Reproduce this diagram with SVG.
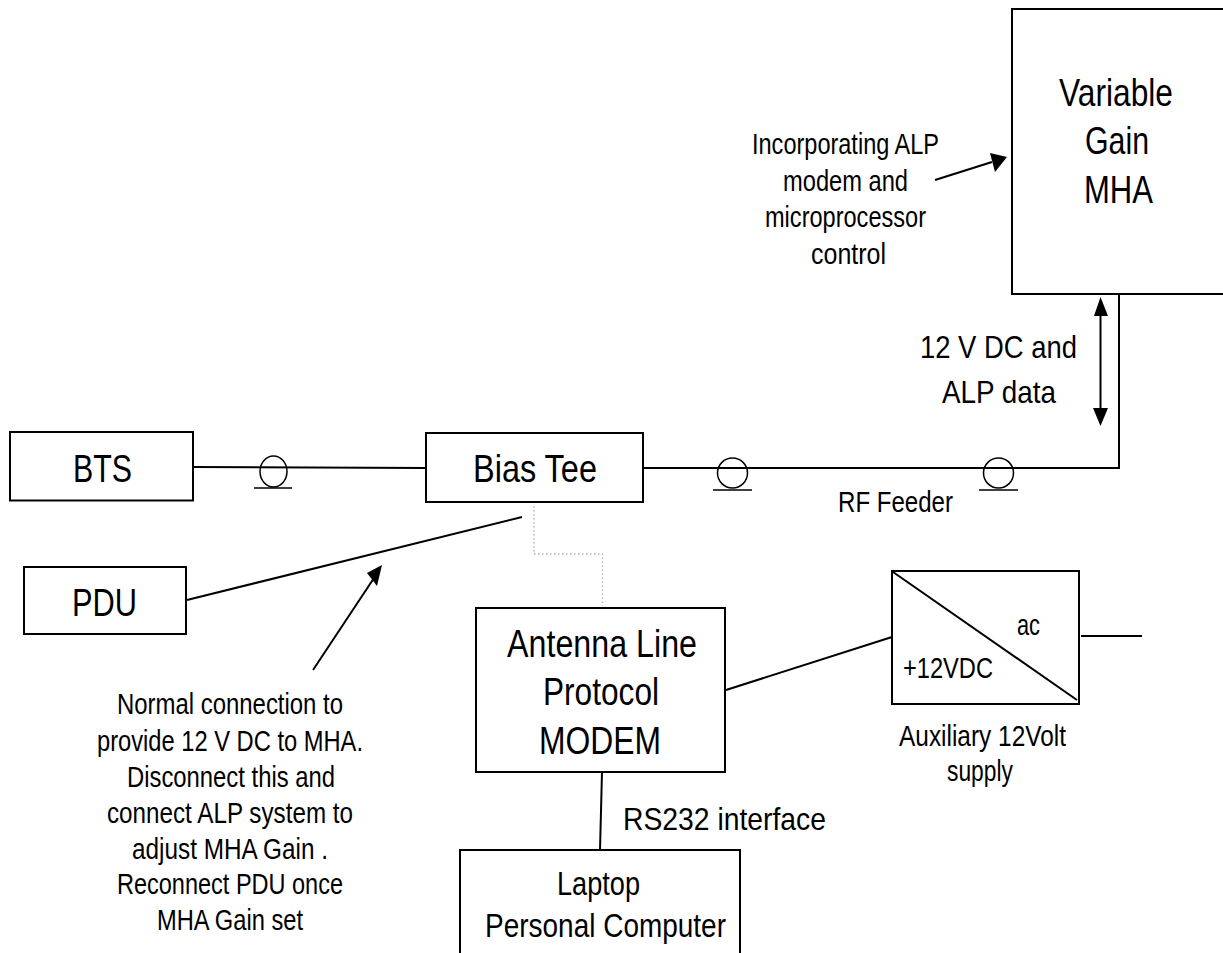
<svg xmlns="http://www.w3.org/2000/svg" width="1223" height="953" viewBox="0 0 1223 953">
<style>
text{font-family:"Liberation Sans",Arial,sans-serif;fill:#000;text-anchor:start}
.b{fill:#fff;stroke:#000;stroke-width:2}
.l{fill:none;stroke:#000;stroke-width:2}
.t{fill:none;stroke:#000;stroke-width:1.5}
.f{fill:#000;stroke:none}
.s{font-size:29px}.m{font-size:32px}.k{font-size:34px}.g{font-size:38.500px}
</style>
<rect width="1223" height="953" fill="#fff"/>
<g id="connectors">
<path class="l" d="M193 467L426 468"/>
<path class="l" d="M643 468H1119V294"/>
<path class="l" d="M187 600L522 517"/>
<path d="M534 506V554H602.500V606" fill="none" stroke="#b5b5b5" stroke-width="1.500" stroke-dasharray="1.500 2.500"/>
<path class="l" d="M726 690L892 637"/>
<path class="l" d="M1081 636H1142"/>
<path class="l" d="M602 772L600 850"/>
<path class="l" d="M935 180L992 162"/>
<path class="f" d="M1007 157L995 172L990 153Z"/>
<path class="l" d="M1100.500 312V410"/>
<path class="f" d="M1100.500 297L1108 316H1094ZM1100.500 426L1093 408H1108Z"/>
<path class="l" d="M313 670L374 578"/>
<path class="f" d="M382 565L377 586L367 573Z"/>
<ellipse class="t" cx="273.500" cy="471.500" rx="13.500" ry="15.500"/><path class="t" d="M254 488H292"/>
<circle class="t" cx="732.500" cy="473" r="15"/><path class="t" d="M713 490H752"/>
<circle class="t" cx="998.500" cy="473" r="15"/><path class="t" d="M979 490H1018"/>
</g>
<g id="mha"><rect class="b" x="1012" y="9" width="220" height="285"/>
<text class="g" x="1059" y="106" textLength="114" lengthAdjust="spacingAndGlyphs">Variable</text>
<text class="g" x="1085" y="154" textLength="64" lengthAdjust="spacingAndGlyphs">Gain</text>
<text class="g" x="1084" y="203" textLength="69" lengthAdjust="spacingAndGlyphs">MHA</text></g>
<g id="mha-note">
<text class="s" x="752" y="154" textLength="187" lengthAdjust="spacingAndGlyphs">Incorporating ALP</text>
<text class="s" x="783" y="191" textLength="125" lengthAdjust="spacingAndGlyphs">modem and</text>
<text class="s" x="765" y="227" textLength="161" lengthAdjust="spacingAndGlyphs">microprocessor</text>
<text class="s" x="811" y="264" textLength="75" lengthAdjust="spacingAndGlyphs">control</text></g>
<g id="bts"><rect class="b" x="10" y="432" width="183" height="68.500"/><text class="g" x="73" y="482" textLength="59" lengthAdjust="spacingAndGlyphs">BTS</text></g>
<g id="pdu"><rect class="b" x="24" y="567" width="162" height="67"/><text class="g" x="72" y="616" textLength="65" lengthAdjust="spacingAndGlyphs">PDU</text></g>
<g id="bias-tee"><rect class="b" x="426" y="433" width="217" height="69"/><text class="g" x="473" y="482" textLength="124" lengthAdjust="spacingAndGlyphs">Bias Tee</text></g>
<g id="alp-modem"><rect class="b" x="476" y="608" width="249" height="164"/>
<text class="g" x="507" y="657" textLength="190" lengthAdjust="spacingAndGlyphs">Antenna Line</text>
<text class="g" x="543" y="705" textLength="116" lengthAdjust="spacingAndGlyphs">Protocol</text>
<text class="g" x="539" y="754" textLength="122" lengthAdjust="spacingAndGlyphs">MODEM</text></g>
<g id="supply"><rect class="b" x="892" y="571" width="187" height="133"/><path class="l" d="M893 572L1077 700"/>
<text class="s" x="1017" y="635" textLength="23" lengthAdjust="spacingAndGlyphs">ac</text>
<text class="s" x="903" y="678" textLength="90" lengthAdjust="spacingAndGlyphs">+12VDC</text></g>
<g id="laptop"><path class="b" d="M460 954V850H740V954"/>
<text class="k" x="557" y="895" textLength="83" lengthAdjust="spacingAndGlyphs">Laptop</text>
<text class="k" x="485" y="937" textLength="241" lengthAdjust="spacingAndGlyphs">Personal Computer</text></g>
<g id="labels">
<text class="m" x="920" y="358" textLength="157" lengthAdjust="spacingAndGlyphs">12 V DC and</text>
<text class="m" x="942" y="403" textLength="114" lengthAdjust="spacingAndGlyphs">ALP data</text>
<text class="s" x="838" y="512" textLength="115" lengthAdjust="spacingAndGlyphs">RF Feeder</text>
<text class="m" x="623" y="830" textLength="203" lengthAdjust="spacingAndGlyphs">RS232 interface</text>
<text class="s" x="899" y="746" textLength="167" lengthAdjust="spacingAndGlyphs">Auxiliary 12Volt</text>
<text class="s" x="947" y="781" textLength="66" lengthAdjust="spacingAndGlyphs">supply</text>
<text class="s" x="117" y="714" textLength="226" lengthAdjust="spacingAndGlyphs">Normal connection to</text>
<text class="s" x="97" y="751" textLength="266" lengthAdjust="spacingAndGlyphs">provide 12 V DC to MHA.</text>
<text class="s" x="127" y="787" textLength="208" lengthAdjust="spacingAndGlyphs">Disconnect this and</text>
<text class="s" x="107" y="823" textLength="246" lengthAdjust="spacingAndGlyphs">connect ALP system to</text>
<text class="s" x="132" y="859" textLength="196" lengthAdjust="spacingAndGlyphs">adjust MHA Gain .</text>
<text class="s" x="117" y="894" textLength="226" lengthAdjust="spacingAndGlyphs">Reconnect PDU once</text>
<text class="s" x="157" y="930" textLength="146" lengthAdjust="spacingAndGlyphs">MHA Gain set</text>
</g>
</svg>
